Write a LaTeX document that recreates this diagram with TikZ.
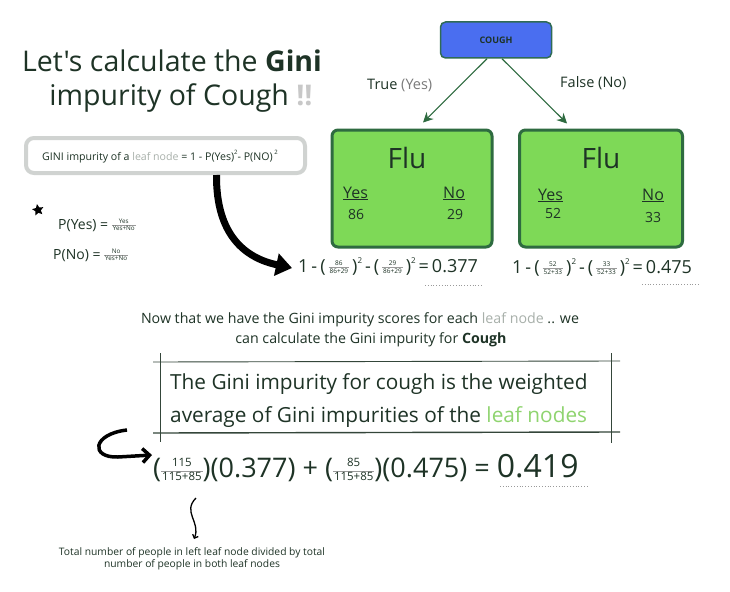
\documentclass[tikz,border=0pt]{standalone}
\usepackage{fontspec}
\setmainfont{Open Sans}[Ligatures=TeXOff]
\usepackage{colortbl}
\usetikzlibrary{arrows.meta,shapes.geometric}
\definecolor{txt}{HTML}{1E3326}
\definecolor{coughblue}{HTML}{4A6EF0}
\definecolor{coughborder}{HTML}{2F6B55}
\definecolor{flugreen}{HTML}{7ED957}
\definecolor{fluborder}{HTML}{2E6B40}
\definecolor{boxgray}{HTML}{D0D3D1}
\definecolor{leafgray}{HTML}{A8B0AA}
\definecolor{midgray}{HTML}{7A7A7A}
\definecolor{lightg}{HTML}{C8C8C8}
\definecolor{leafgreen}{HTML}{8FD46F}
\definecolor{fracgray}{HTML}{9A9A9A}
\definecolor{sketchc}{HTML}{34463A}
\newcommand\fsz[1]{\fontsize{#1}{#1}\selectfont}
\newcommand\supr[2][0.55em]{\raisebox{#1}{\fsz{6}#2}}
\newcommand\fr[3][6.5]{\ensuremath{\vcenter{\hbox{\fsz{#1}\arrayrulecolor{fracgray}\renewcommand\arraystretch{1.15}\setlength\tabcolsep{1pt}\begin{tabular}{c}#2\\\hline #3\end{tabular}}}}}
\begin{document}
\begin{tikzpicture}[x=1pt,y=-1pt,
  every node/.style={inner sep=0pt, text=txt},
  flubox/.style={draw=fluborder, fill=flugreen, line width=3pt, rounded corners=6pt},
  branch/.style={draw=fluborder, line width=1.1pt, -{Stealth[length=10pt,width=10pt]}},
  sketch/.style={draw=sketchc, line width=0.9pt},
  dots/.style={draw=fracgray, line width=0.8pt, dotted}]
\useasboundingbox[fill=white] (0,0) rectangle (730,591);

% title
\node[anchor=base] (t1) at (172,72) {\fsz{28.5}Let's calculate the \textbf{Gini}};
\node[anchor=base] (t2) at (181,106) {\fsz{28.5}impurity of Cough {\color{lightg}\textbf{!!}}};

% formula box
\node[draw=boxgray, line width=4pt, rounded corners=8pt, minimum width=279pt, minimum height=35pt, fill=white] (fbox) at (165.5,155.5) {};
\node[anchor=base west] (ftext) at (42,160) {\fsz{10.6}GINI impurity of a {\color{leafgray}leaf node} = 1 - P(Yes)\supr{2}- P(NO)\,\supr{2}};

% star and probabilities
\node[star, star points=5, star point ratio=2.1, fill=black, minimum size=12pt, rotate=10] (star) at (38,210) {};
\node[anchor=base west] (py) at (58,229) {\fsz{14}P(Yes) = \fr[6.3]{Yes}{Yes+No}};
\node[anchor=base west] (pn) at (53,259) {\fsz{14}P(No) = \fr[6.3]{No}{Yes+No}};

% tree
\node[draw=coughborder, fill=coughblue, line width=1.5pt, rounded corners=5pt, minimum width=111pt, minimum height=36pt] (cough) at (496,40) {\fsz{9}\textbf{COUGH}};
\node[flubox, minimum width=160pt, minimum height=117pt] (flu1) at (412,188.5) {};
\node[flubox, minimum width=163pt, minimum height=117pt] (flu2) at (601,188.5) {};
\draw[branch] ([xshift=-9pt]cough.south) -- ([xshift=11pt,yshift=6pt]flu1.north);
\draw[branch] ([xshift=6pt]cough.south) -- ([xshift=-34pt,yshift=5pt]flu2.north);
\node[anchor=base west] (tl) at (367,90) {\fsz{14.5}True {\color{midgray}(Yes)}};
\node[anchor=base west] (fl) at (560,88) {\fsz{14.5}False (No)};

\node[anchor=base] (flu1t) at (407,168) {\fsz{28}Flu};
\node[anchor=base west] (y1) at (343,198) {\fsz{16}\underline{Yes}};
\node[anchor=base west] (no1) at (443,198) {\fsz{16}\underline{No}};
\node[anchor=base west] (v1) at (348,219) {\fsz{14}86};
\node[anchor=base west] (v2) at (447,219) {\fsz{14}29};
\node[anchor=base] (flu2t) at (601,168) {\fsz{28}Flu};
\node[anchor=base west] (y2) at (538,200) {\fsz{16}\underline{Yes}};
\node[anchor=base west] (no2) at (642,200) {\fsz{16}\underline{No}};
\node[anchor=base west] (v3) at (545,218) {\fsz{14}52};
\node[anchor=base west] (v4) at (645,222) {\fsz{14}33};

% big arrow
\coordinate (bigend) at (292,268);
\draw[line width=7pt, -{Triangle[length=16pt,width=22pt]}] ([xshift=51pt]fbox.south) .. controls (216,235) and (245,258) .. (bigend);

% leaf formulas
\node[anchor=base west] (f1) at (298,272) {\fsz{18}1\,-\,(\,\fr{86}{86+29}\,)\supr[0.5em]{\fsz{8}2}\,-\,(\,\fr{29}{86+29}\,)\supr[0.5em]{\fsz{8}2}\,=\,0.377};
\node[anchor=base west] (f2) at (512,273) {\fsz{18}1\,-\,(\,\fr{52}{52+33}\,)\supr[0.5em]{\fsz{8}2}\,-\,(\,\fr{33}{52+33}\,)\supr[0.5em]{\fsz{8}2}\,=\,0.475};
\draw[dots] (425,285) -- (482,285);
\draw[dots] (642,284) -- (700,284);

% middle text
\node[anchor=base] (n1) at (360,323) {\fsz{14.2}Now that we have the Gini impurity scores for each {\color{leafgray}leaf node} .. we};
\node[anchor=base] (n2) at (371,343) {\fsz{14.2}can calculate the Gini impurity for \textbf{Cough}};

% sketch box
\draw[sketch] (153,362) -- (620,361);
\draw[sketch, line width=1.4pt] (153,433) -- (620,432);
\draw[sketch] (160,353) -- (160,442);
\draw[sketch] (611,353) -- (611,443);
\node[anchor=base west] (b1) at (170,389) {\fsz{20.8}The Gini impurity for cough is the weighted};
\node[anchor=base west] (b2) at (170,422) {\fsz{20.8}average of Gini impurities of the {\color{leafgreen}leaf nodes}};

% final equation
\node[anchor=base west] (eq) at (153,477) {\fsz{27}(\fr[11.5]{115}{115+85})(0.377) + (\fr[11.5]{85}{115+85})(0.475) = {\fsz{32}0.419}};
\draw[dots] (500,486) -- (587,486);

% curly arrow
\coordinate (cstart) at (127,430);
\coordinate (cend) at (152,455);
\draw[line width=3.5pt, -{Straight Barb[length=7pt,width=14pt]}] (cstart) .. controls (92,434) and (90,458) .. (118,457) -- (cend);

% squiggle
\coordinate (sqs) at (196,498);
\coordinate (sqe) at (194,539);
\draw[line width=1.3pt, -{Straight Barb[length=3pt,width=6pt]}] (sqs) .. controls (182,512) and (201,522) .. (sqe);

\node[anchor=base] (bt1) at (192,555) {\fsz{10.3}Total number of people in left leaf node divided by total};
\node[anchor=base] (bt2) at (192,567) {\fsz{10.3}number of people in both leaf nodes};
\end{tikzpicture}
\end{document}
